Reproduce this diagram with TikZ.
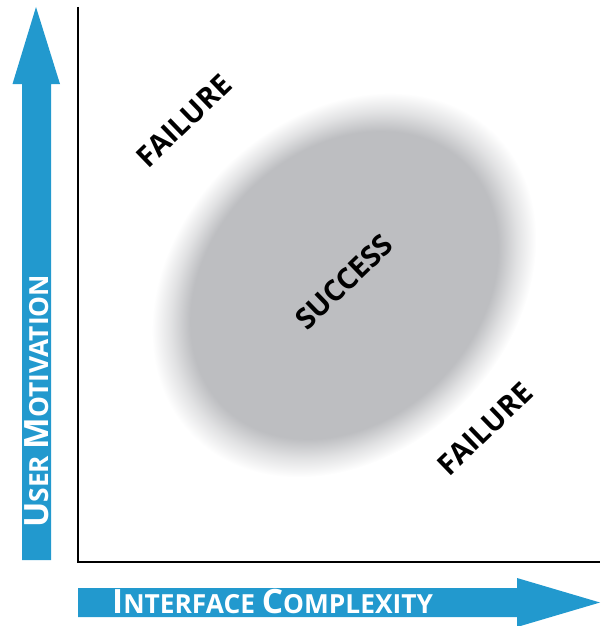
\documentclass[tikz,border=0pt]{standalone}
\usepackage{fontspec}
\newfontfamily\plotfont{Open Sans}
\definecolor{axisblue}{HTML}{2299CE}
\definecolor{blobgray}{HTML}{BDBEC1}
\pgfdeclareradialshading{blurblob}{\pgfpoint{0bp}{0bp}}{color(0bp)=(blobgray); color(20bp)=(blobgray); color(22.5bp)=(blobgray!45!white); color(25bp)=(white); color(50bp)=(white)}
\tikzstyle{verdict}=[font=\plotfont\bfseries\fontsize{29}{29}\selectfont, rotate=44, inner sep=0pt]
\tikzstyle{axislabel}=[font=\plotfont\bfseries, text=white, inner sep=0pt]
\newcommand{\verdict}{\node[verdict]}
\newcommand{\axcap}[1]{{\fontsize{33.5}{33.5}\selectfont #1}}
\newcommand{\axsmall}[1]{{\fontsize{26.3}{26.3}\selectfont #1}}

\begin{document}
\begin{tikzpicture}[x=1pt, y=-1pt]
\useasboundingbox (0,0) rectangle (600,626);
% soft success region
\begin{scope}[transform canvas={shift={(344,285)}, rotate=45}]
\shade[shading=blurblob] (0,0) ellipse [x radius=214pt, y radius=168pt];
\end{scope}
% axis arrows
\fill[axisblue] (22,560) -- (22,84) -- (12.5,84) -- (36,7) -- (60,84)
    -- (51,84) -- (51,560) -- cycle;
\fill[axisblue] (78,588) -- (517,588) -- (517,578) -- (600,602.5)
    -- (517,627) -- (517,617) -- (78,617) -- cycle;
\draw[line width=1.4pt] (78,7) -- (78,562) -- (600,562);
\node[axislabel, anchor=base west] (xlab) at (112,613)
    {\axcap{I}\axsmall{NTERFACE }\axcap{C}\axsmall{OMPLEXITY}};
\node[axislabel, anchor=base west, rotate=90] (ylab) at (48,528)
    {\axcap{U}\axsmall{SER }\axcap{M}\axsmall{OTIVATION}};
\verdict (fail1) at (184,121) {FAILURE};
\verdict (succ)  at (344,282) {SUCCESS};
\verdict (fail2) at (485,429) {FAILURE};
\end{tikzpicture}
\end{document}
